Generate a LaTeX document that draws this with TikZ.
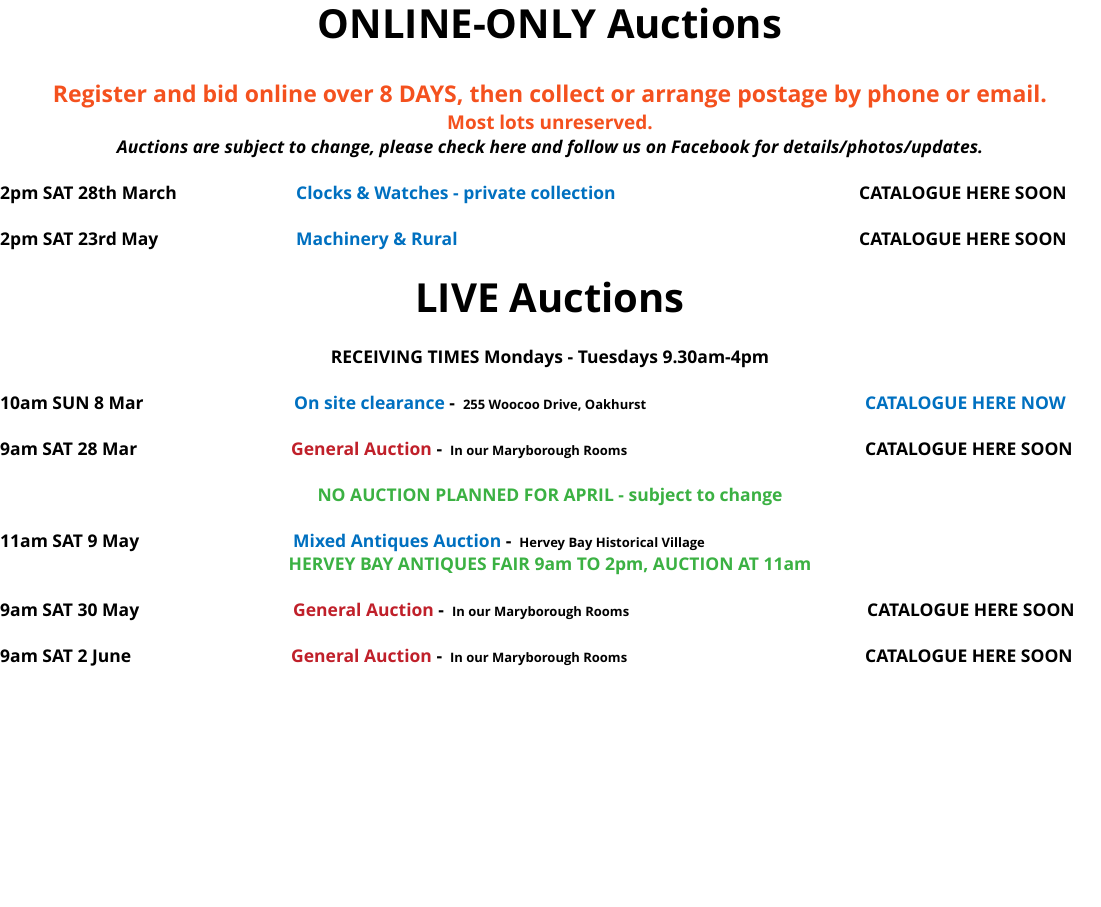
\documentclass[tikz,border=0pt]{standalone}
\usepackage{fontspec}
\setmainfont{Open Sans}
\definecolor{org}{HTML}{F4511E}
\definecolor{blu}{HTML}{0070C0}
\definecolor{rd}{HTML}{C0202A}
\definecolor{grn}{HTML}{3BB143}
\begin{document}
\begin{tikzpicture}[x=1pt,y=-1pt,
 t/.style={inner sep=0pt,anchor=base west,font=\fontsize{17.5}{20}\selectfont\bfseries},
 c/.style={t,anchor=base}]
\useasboundingbox (0,0) rectangle (1101,906);
\node[c,font=\fontsize{40}{44}\selectfont\bfseries] (h1) at (550,38) {ONLINE-ONLY Auctions};
\node[c,org,font=\fontsize{23}{26}\selectfont\bfseries] (o1) at (550,102) {Register and bid online over 8 DAYS, then collect or arrange postage by phone or email.};
\node[c,org,font=\fontsize{19}{22}\selectfont\bfseries] (o2) at (550,129) {Most lots unreserved.};
\node[c,font=\fontsize{17.5}{20}\selectfont\bfseries\itshape] (it) at (550,153) {Auctions are subject to change, please check here and follow us on Facebook for details/photos/updates.};
\node[t] (a1) at (0,199) {2pm SAT 28th March};
\node[t,blu] (a2) at (296,199) {Clocks \& Watches - private collection};
\node[t] (a3) at (859,199) {CATALOGUE HERE SOON};
\node[t] (b1) at (0,245) {2pm SAT 23rd May};
\node[t,blu] (b2) at (296,245) {Machinery \& Rural};
\node[t] (b3) at (859,245) {CATALOGUE HERE SOON};
\node[c,font=\fontsize{40}{44}\selectfont\bfseries] (h2) at (550,312) {LIVE Auctions};
\node[c] (rt) at (550,363) {RECEIVING TIMES Mondays - Tuesdays 9.30am-4pm};
\node[t] (c1) at (0,409) {10am SUN 8 Mar};
\node[t] (c2) at (294,409) {\textcolor{blu}{On site clearance} - {\fontsize{13}{15}\selectfont\ 255 Woocoo Drive, Oakhurst}};
\node[t,blu] (c3) at (865,409) {CATALOGUE HERE NOW};
\node[t] (d1) at (0,455) {9am SAT 28 Mar};
\node[t] (d2) at (291,455) {\textcolor{rd}{General Auction} - {\fontsize{13}{15}\selectfont\ In our Maryborough Rooms}};
\node[t] (d3) at (865,455) {CATALOGUE HERE SOON};
\node[c,grn] (na) at (550,501) {NO AUCTION PLANNED FOR APRIL - subject to change};
\node[t] (e1) at (0,547) {11am SAT 9 May};
\node[t] (e2) at (293,547) {\textcolor{blu}{Mixed Antiques Auction} - {\fontsize{13}{15}\selectfont\ Hervey Bay Historical Village}};
\node[c,grn] (hb) at (550,570) {HERVEY BAY ANTIQUES FAIR 9am TO 2pm, AUCTION AT 11am};
\node[t] (f1) at (0,616) {9am SAT 30 May};
\node[t] (f2) at (293,616) {\textcolor{rd}{General Auction} - {\fontsize{13}{15}\selectfont\ In our Maryborough Rooms}};
\node[t] (f3) at (867,616) {CATALOGUE HERE SOON};
\node[t] (g1) at (0,662) {9am SAT 2 June};
\node[t] (g2) at (291,662) {\textcolor{rd}{General Auction} - {\fontsize{13}{15}\selectfont\ In our Maryborough Rooms}};
\node[t] (g3) at (865,662) {CATALOGUE HERE SOON};
\end{tikzpicture}
\end{document}
